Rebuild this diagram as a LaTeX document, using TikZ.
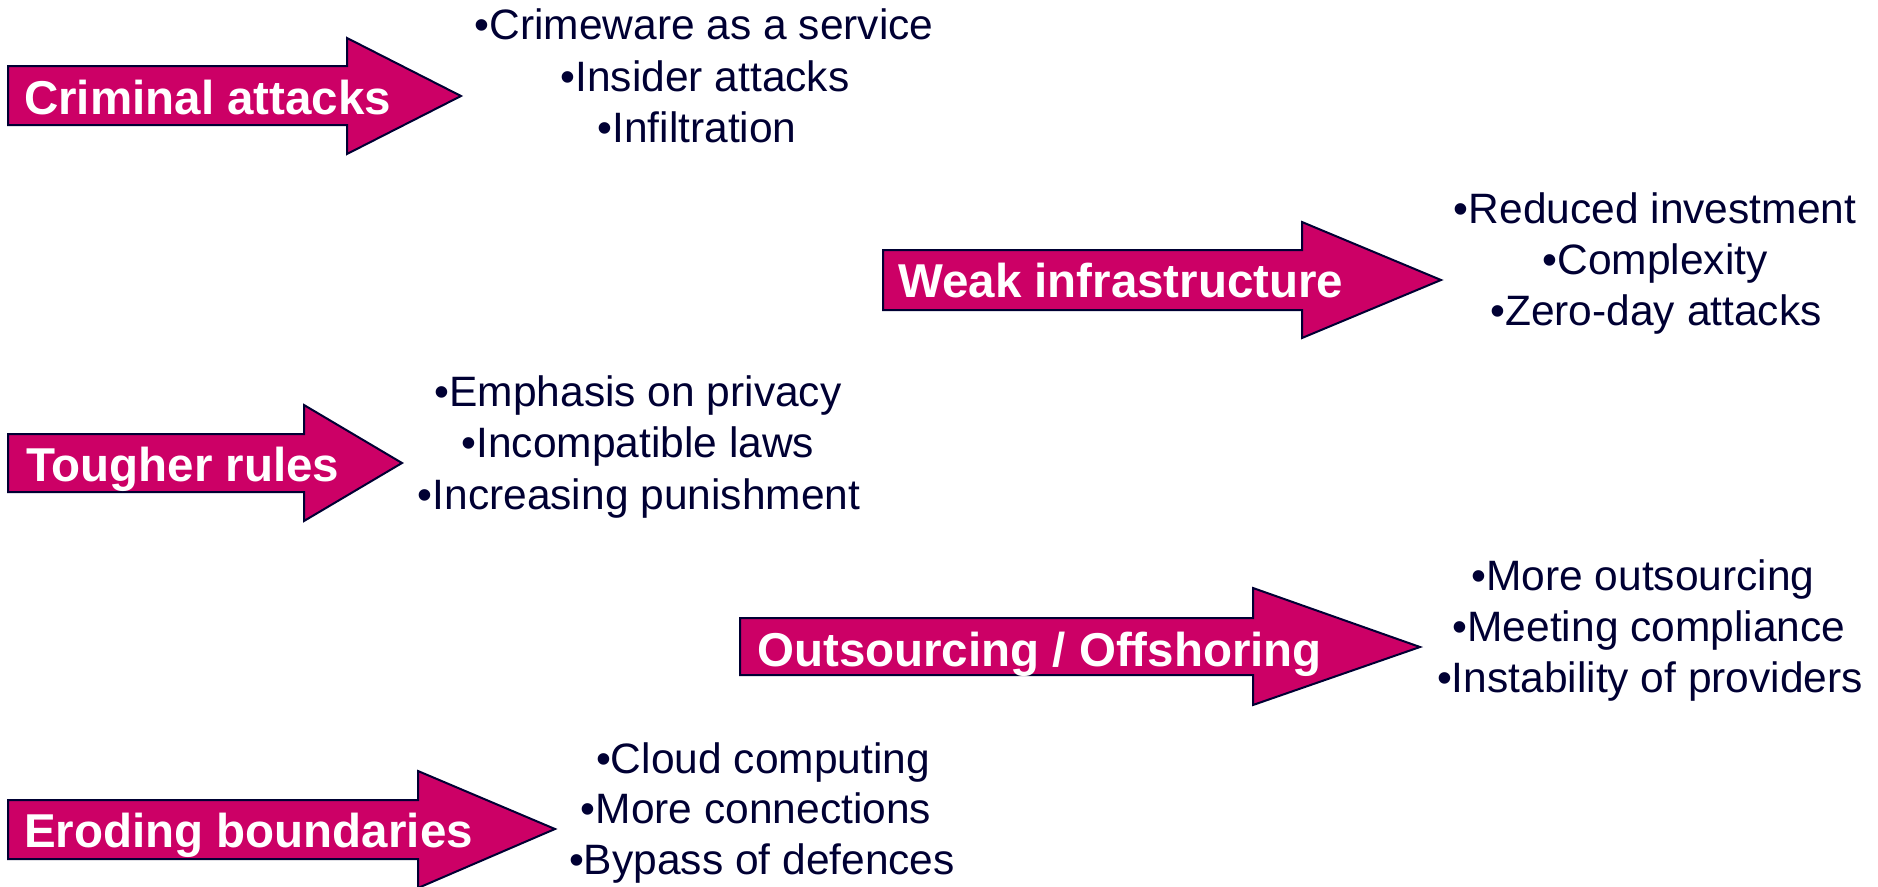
\documentclass[tikz,border=0pt]{standalone}
\usepackage{fontspec}
\setmainfont{Liberation Sans}
\definecolor{arrowfill}{RGB}{204,0,102}
\definecolor{navy}{RGB}{0,0,51}
\newcommand\blockarrow[8]{%
  \draw[arrowbox] (#1,#2) -- (#4,#2) -- (#4,#5) -- (#7,#8) -- (#4,#6) -- (#4,#3) -- (#1,#3) -- cycle;}
\tikzset{
  arrowbox/.style={fill=arrowfill, draw=navy, line width=2pt, line join=miter},
  label/.style={anchor=base west, inner sep=0pt, text=white, font=\fontsize{47.5}{57}\selectfont\bfseries},
  item/.style={anchor=base, inner sep=0pt, text=navy, font=\fontsize{42.5}{51}\selectfont}
}
\begin{document}
\begin{tikzpicture}[x=1pt,y=-1pt]
\useasboundingbox (0,0) rectangle (1878,886);
% arrows
\blockarrow{8}{66}{125}{347}{38}{154}{461}{96}
\blockarrow{883}{250}{310}{1302}{222}{338}{1441}{280}
\blockarrow{8}{434}{492}{304}{405}{521}{402}{463}
\blockarrow{740}{618}{675}{1253}{588}{705}{1420}{647}
\blockarrow{8}{800}{859}{418}{771}{888}{555}{829}
% labels
\node[label] (l1) at (24,114) {Criminal attacks};
\node[label] (l2) at (898,297) {Weak infrastructure};
\node[label] (l3) at (26,481) {Tougher rules};
\node[label] (l4) at (757,666) {Outsourcing / Offshoring};
\node[label] (l5) at (24,847) {Eroding boundaries};
% items
\node[item] (a1) at (704,39) {•Crimeware as a service};
\node[item] (a2) at (705,91) {•Insider attacks};
\node[item] (a3) at (697,142) {•Infiltration};
\node[item] (b1) at (1655,223) {•Reduced investment};
\node[item] (b2) at (1655,274) {•Complexity};
\node[item] (b3) at (1656,325) {•Zero-day attacks};
\node[item] (c1) at (638,406) {•Emphasis on privacy};
\node[item] (c2) at (638,457) {•Incompatible laws};
\node[item] (c3) at (639,509) {•Increasing punishment};
\node[item] (d1) at (1643,590) {•More outsourcing};
\node[item] (d2) at (1649,641) {•Meeting compliance};
\node[item] (d3) at (1650,692) {•Instability of providers};
\node[item] (e1) at (763,773) {•Cloud computing};
\node[item] (e2) at (756,823) {•More connections};
\node[item] (e3) at (762,874) {•Bypass of defences};
\end{tikzpicture}
\end{document}
